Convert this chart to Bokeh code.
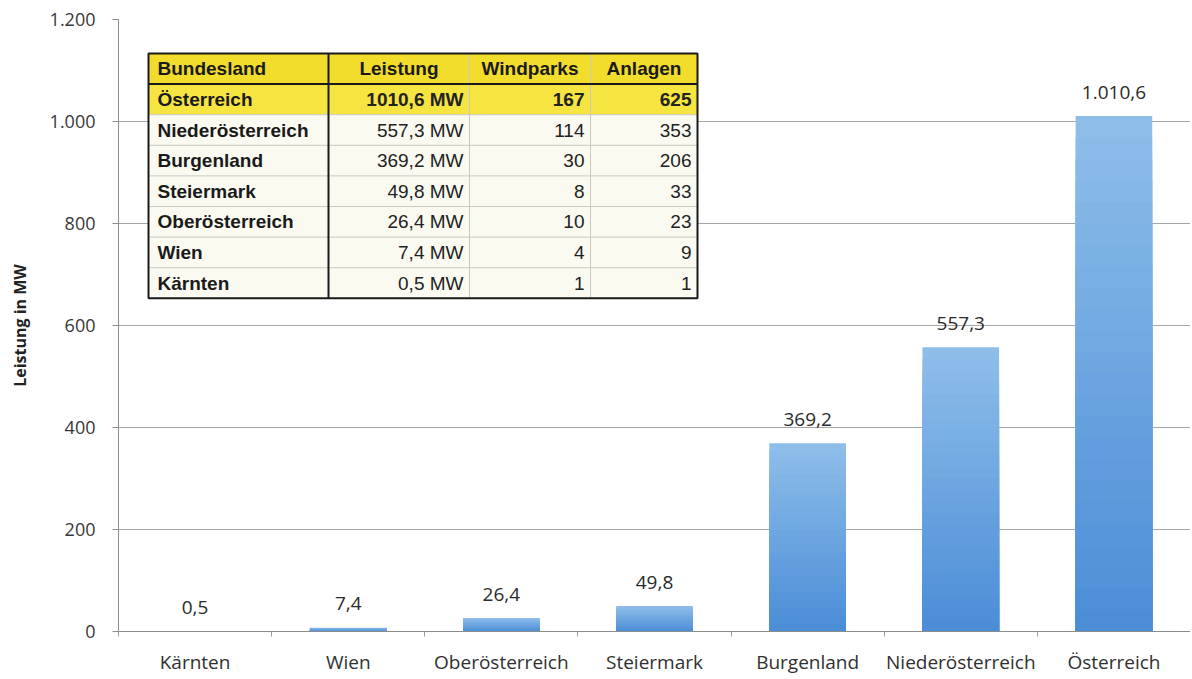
from bokeh.plotting import figure
from bokeh.models import Range1d, FixedTicker, ColumnDataSource
from bokeh.core.properties import value
from bokeh.embed import file_html
from bokeh.resources import INLINE

# ---------------- data ----------------
bundeslaender = ["Kärnten", "Wien", "Oberösterreich", "Steiermark",
                 "Burgenland", "Niederösterreich", "Österreich"]
leistung_mw = [0.5, 7.4, 26.4, 49.8, 369.2, 557.3, 1010.6]

y_ticks = [0, 200, 400, 600, 800, 1000, 1200]
y_tick_labels = ["0", "200", "400", "600", "800", "1.000", "1.200"]

table_header = ["Bundesland", "Leistung", "Windparks", "Anlagen"]
table_names = ["Österreich", "Niederösterreich", "Burgenland", "Steiermark",
               "Oberösterreich", "Wien", "Kärnten"]
table_leistung = [1010.6, 557.3, 369.2, 49.8, 26.4, 7.4, 0.5]
table_windparks = [167, 114, 30, 8, 10, 4, 1]
table_anlagen = [625, 353, 206, 33, 23, 9, 1]


def de_fmt(v, thousands=True):
    s = f"{v:,.1f}" if thousands else f"{v:.1f}"
    return s.replace(",", "X").replace(".", ",").replace("X", ".")


# category slots on a numeric axis (centre of slot i is i + 0.5)
n_cat = len(bundeslaender)
xpos = [i + 0.5 for i in range(n_cat)]
xbounds = list(range(n_cat + 1))

# ---------------- figure ----------------
W, H = 1190, 677
ML, MT, MB, MR = 118, 19, 46, 0
FW, FH = W - ML - MR, H - MT - MB

p = figure(x_range=Range1d(0, n_cat), y_range=Range1d(0, 1200),
           width=W, height=H, output_backend="svg", toolbar_location=None,
           min_border_left=ML, min_border_top=MT, min_border_bottom=MB,
           min_border_right=MR)
p.outline_line_color = None
p.background_fill_color = "white"
p.border_fill_color = "white"

FONT = value("Open Sans")

# axes
p.yaxis.ticker = FixedTicker(ticks=y_ticks)
p.yaxis.major_label_overrides = {t: l for t, l in zip(y_ticks, y_tick_labels)}
p.yaxis.minor_tick_line_color = None
p.yaxis.major_tick_out = 6
p.yaxis.major_tick_in = 0
p.yaxis.major_tick_line_color = "#8c8c8c"
p.yaxis.axis_line_color = "#8c8c8c"
p.yaxis.major_label_standoff = 17
p.yaxis.major_label_text_font = "Open Sans"
p.yaxis.major_label_text_font_size = "18px"
p.yaxis.major_label_text_color = "#383838"
p.yaxis.axis_label = "Leistung in MW"
p.yaxis.axis_label_text_font = "Open Sans"
p.yaxis.axis_label_text_font_style = "bold"
p.yaxis.axis_label_text_font_size = "16px"
p.yaxis.axis_label_text_color = "#222222"
p.yaxis.axis_label_standoff = 16

p.xaxis.ticker = FixedTicker(ticks=xpos, minor_ticks=xbounds)
p.xaxis.major_label_overrides = {x: n for x, n in zip(xpos, bundeslaender)}
p.xaxis.major_tick_line_color = None
p.xaxis.major_tick_out = 0
p.xaxis.major_tick_in = 0
p.xaxis.minor_tick_line_color = "#a0a0a0"
p.xaxis.minor_tick_out = 5
p.xaxis.minor_tick_in = 0
p.xaxis.axis_line_color = "#8c8c8c"
p.xaxis.major_label_standoff = 12
p.xaxis.major_label_text_font = "Open Sans"
p.xaxis.major_label_text_font_size = "19px"
p.xaxis.major_label_text_color = "#303030"

p.xgrid.grid_line_color = None
p.ygrid.grid_line_color = "#a6a6a6"
p.ygrid.grid_line_width = 1

# ---------------- bars (vertical gradient via overlapping layers) ----------------
N = 24
top_rgb = (0x8f, 0xbe, 0xea)
bot_rgb = (0x4a, 0x8d, 0xd6)
for k in range(N, 0, -1):
    f = (k - 0.5) / N
    c = tuple(int(round(b + (t - b) * f)) for t, b in zip(top_rgb, bot_rgb))
    col = "#%02x%02x%02x" % c
    src = ColumnDataSource(dict(x=xpos, top=[v * k / N for v in leistung_mw]))
    p.vbar(x="x", bottom=0, top="top", width=0.5, source=src,
           fill_color=col, line_color=None)

lab_src = ColumnDataSource(dict(x=xpos, y=leistung_mw,
                                t=[de_fmt(v) for v in leistung_mw]))
p.text(x="x", y="y", text="t", source=lab_src, text_align="center",
       text_baseline="middle", y_offset=-24, text_font=FONT,
       text_font_size="19px", text_color="#2a2a2a")

# ---------------- table (frame pixel coordinates) ----------------
p.extra_x_ranges = {"tx": Range1d(0, FW)}
p.extra_y_ranges = {"ty": Range1d(FH, 0)}
TK = dict(x_range_name="tx", y_range_name="ty")

col_edges = [30, 210, 351, 472, 579]
row_top = 34
row_h = 30.6
n_rows = len(table_names) + 1
row_edges = [row_top + k * row_h for k in range(n_rows + 1)]
x0, x1 = col_edges[0], col_edges[-1]

# backgrounds
fills = ["#f2dc2c", "#f6e440"] + ["#fbfaf1"] * (n_rows - 2)
p.quad(left=[x0] * n_rows, right=[x1] * n_rows, top=row_edges[:-1],
       bottom=row_edges[1:], fill_color=fills, line_color=None, **TK)

# light row separators
p.segment(x0=[x0] * (n_rows - 2), x1=[x1] * (n_rows - 2),
          y0=row_edges[2:-1], y1=row_edges[2:-1],
          line_color="#c9c9c0", line_width=1, **TK)
# light column separators
p.segment(x0=col_edges[2:4], x1=col_edges[2:4], y0=[row_edges[0]] * 2,
          y1=[row_edges[-1]] * 2, line_color="#c9c9c0", line_width=1, **TK)
# dark lines
p.segment(x0=[x0, col_edges[1]], x1=[x1, col_edges[1]],
          y0=[row_edges[1], row_edges[0]], y1=[row_edges[1], row_edges[-1]],
          line_color="#1a1a1a", line_width=2, **TK)
p.quad(left=[x0], right=[x1], top=[row_edges[0]], bottom=[row_edges[-1]],
       fill_color=None, line_color="#1a1a1a", line_width=2, **TK)

TF = value("Liberation Sans")
FS = "19px"
row_mid = [(row_edges[k] + row_edges[k + 1]) / 2 for k in range(n_rows)]

# header
p.text(x=[col_edges[0] + 9], y=[row_mid[0]], text=[table_header[0]],
       text_align="left", text_baseline="middle", text_font=TF,
       text_font_size=FS, text_font_style="bold", text_color="#1a1a1a", **TK)
p.text(x=[(col_edges[k] + col_edges[k + 1]) / 2 for k in range(1, 4)],
       y=[row_mid[0]] * 3, text=table_header[1:], text_align="center",
       text_baseline="middle", text_font=TF, text_font_size=FS,
       text_font_style="bold", text_color="#1a1a1a", **TK)

# body
for r in range(len(table_names)):
    ym = row_mid[r + 1]
    style_other = "bold" if r == 0 else "normal"
    p.text(x=[col_edges[0] + 9], y=[ym], text=[table_names[r]],
           text_align="left", text_baseline="middle", text_font=TF,
           text_font_size=FS, text_font_style="bold", text_color="#1a1a1a", **TK)
    vals = [de_fmt(table_leistung[r], thousands=False) + " MW",
            str(table_windparks[r]), str(table_anlagen[r])]
    p.text(x=[col_edges[k + 1] - 6 for k in range(1, 4)], y=[ym] * 3,
           text=vals, text_align="right", text_baseline="middle",
           text_font=TF, text_font_size=FS, text_font_style=style_other,
           text_color="#222222", **TK)

open("out.html", "w").write(file_html(p, INLINE))
